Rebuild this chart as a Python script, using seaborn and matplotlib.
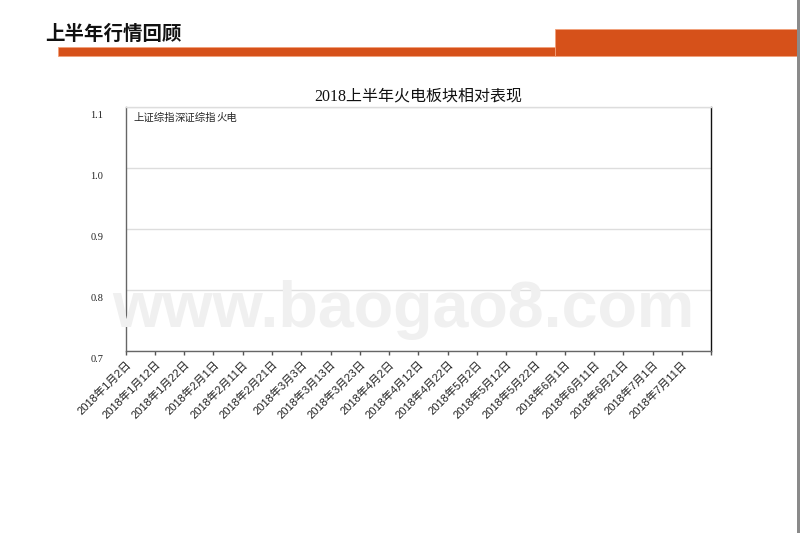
import pandas as pd
import matplotlib.pyplot as plt
import matplotlib.transforms as mtrans
from matplotlib.patches import Rectangle
import seaborn as sns

# chart data (the source chart shows no plotted values, only legend names)
series_names = ['上证综指', '深证综指', '火电']
series_dates = [[], [], []]
series_values = [[], [], []]

tick_dates = ['2018-01-02', '2018-01-12', '2018-01-22', '2018-02-01', '2018-02-11',
              '2018-02-21', '2018-03-03', '2018-03-13', '2018-03-23', '2018-04-02',
              '2018-04-12', '2018-04-22', '2018-05-02', '2018-05-12', '2018-05-22',
              '2018-06-01', '2018-06-11', '2018-06-21', '2018-07-01', '2018-07-11',
              '2018-07-21']
tick_labels = ['2018年1月2日', '2018年1月12日', '2018年1月22日', '2018年2月1日',
               '2018年2月11日', '2018年2月21日', '2018年3月3日', '2018年3月13日',
               '2018年3月23日', '2018年4月2日', '2018年4月12日', '2018年4月22日',
               '2018年5月2日', '2018年5月12日', '2018年5月22日', '2018年6月1日',
               '2018年6月11日', '2018年6月21日', '2018年7月1日', '2018年7月11日', '']
y_ticks = [0.7, 0.8, 0.9, 1.0, 1.1]
y_labels = ['0.7', '0.8', '0.9', '1.0', '1.1']

page_title = '上半年行情回顾'
chart_title = '2018上半年火电板块相对表现'
watermark = 'www.baogao8.com'

orange = '#D6511A'

sns.set_theme(style='white')
plt.rcParams['font.family'] = ['Noto Sans CJK SC', 'DejaVu Sans']

fig = plt.figure(figsize=(8, 5.33), dpi=100)
ax = fig.add_axes([0.157, 0.342, 0.732, 0.457])

# empty series, only so the legend gets its entries
for name, xs, ys in zip(series_names, series_dates, series_values):
    ax.plot(pd.to_datetime(pd.Series(xs, dtype='object')), ys, label=name)

ticks = pd.to_datetime(tick_dates)
ax.set_xlim(ticks[0], ticks[-1])
ax.set_ylim(y_ticks[0], y_ticks[-1])

ax.tick_params(axis='x', bottom=True, length=3, width=1, color='#555555', pad=3)
ax.tick_params(axis='y', left=False, pad=10)

ax.set_xticks(ticks)
ax.set_xticklabels(tick_labels, rotation=45, ha='right', rotation_mode='anchor',
                   fontsize=8, family=['Liberation Sans', 'Noto Sans CJK SC'],
                   color='#222222')
ax.set_yticks(y_ticks)
ax.set_yticklabels(y_labels, fontsize=7.5, family='Liberation Serif', color='#222222')
# labels on the y axis sit a bit below their grid line in the original
shift = mtrans.ScaledTranslation(0, -0.075, fig.dpi_scale_trans)
for lab in ax.get_yticklabels():
    lab.set_transform(lab.get_transform() + shift)

ax.grid(axis='y', color='#DDDDDD', linewidth=1)
ax.grid(axis='x', visible=False)

ax.spines['left'].set_color('#666666')
ax.spines['bottom'].set_color('#666666')
ax.spines['right'].set_color('#111111')
ax.spines['top'].set_color('#DDDDDD')
for s in ax.spines.values():
    s.set_linewidth(1)

ax.set_title(chart_title, fontsize=11.5, pad=5,
             family=['Liberation Serif', 'Noto Sans CJK SC'], color='#111111')

ax.legend(loc='upper left', bbox_to_anchor=(0.013, 0.978), ncol=3, frameon=False,
          handlelength=0, handletextpad=0, columnspacing=0, borderpad=0,
          borderaxespad=0, fontsize=7.5)

# page header
fig.text(45 / 800, 1 - 34 / 533, page_title, fontsize=14, fontweight='bold',
         va='center', ha='left', color='#111111')
fig.patches.append(Rectangle((58 / 800, 1 - 56 / 533), 497 / 800, 9 / 533,
                             transform=fig.transFigure, facecolor=orange,
                             edgecolor='#F2A07A', linewidth=0.6))
fig.patches.append(Rectangle((555 / 800, 1 - 56 / 533), 242 / 800, 27 / 533,
                             transform=fig.transFigure, facecolor=orange,
                             edgecolor='#F2A07A', linewidth=0.6))
fig.patches.append(Rectangle((797 / 800, 0), 3 / 800, 1,
                             transform=fig.transFigure, facecolor='#8A8A8A',
                             edgecolor='none'))

fig.text(403 / 800, 1 - 327 / 533, watermark, fontsize=46.5, fontweight='bold',
         family='Liberation Sans', color='#F0F0F0', ha='center', va='baseline',
         zorder=10)

fig.savefig('out.png', dpi=100)
